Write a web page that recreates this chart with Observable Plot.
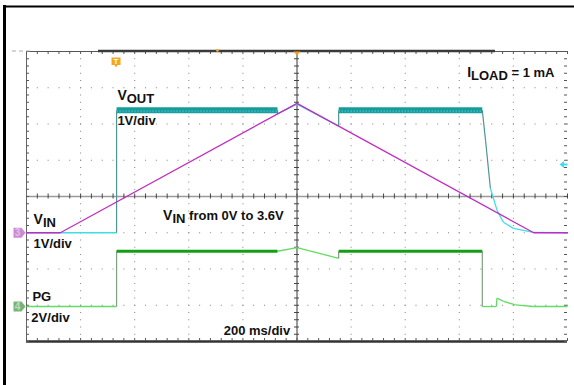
<!DOCTYPE html>
<html><head><meta charset="utf-8">
<script src="https://cdn.jsdelivr.net/npm/d3@7"></script>
<script src="https://cdn.jsdelivr.net/npm/@observablehq/plot@0.6"></script>
<style>body{margin:0;background:#fff} svg{display:block}</style>
</head><body><div id="chart"></div>
<script>
// ---------- data: time in ms (200 ms/div), values in volts ----------
const vinT  = [0, 125, 1000, 1875, 2000];
const vinV  = [0, 0, 3.57, 0, 0];

const voutT = [0, 333, 333, 928, 928, 1000, 1154, 1154, 1685, 1697, 1715, 1740, 1763, 1800, 1874, 2000];
const voutV = [0, 0, 3.38, 3.38, 3.28, 3.55, 2.94, 3.38, 3.38, 2.55, 1.22, 0.61, 0.29, 0.12, 0.01, 0];
const voutReg = 3.38;

const pgT = [0, 333, 333, 928, 1000, 1154, 1154, 1685, 1685, 1737, 1739, 1764, 1808, 1874, 2000];
const pgV = [0, 0, 3.05, 3.05, 3.25, 2.66, 3.05, 3.05, 0, 0, 0.46, 0.28, 0.09, 0, 0];
const pgHigh = 3.05;

// channel offsets (divisions from bottom) and volts per division
const chOffset = {vout: 3, vin: 3, pg: 0.965};
const chScale  = {vout: 1, vin: 1, pg: 2};

// labels (text, x in ms, y in div)
const labelText = ["V_{OUT}", "1V/div", "V_{IN}", "1V/div", "PG", "2V/div", "V_{IN} from 0V to 3.6V", "200 ms/div", "I_{LOAD} = 1 mA"];
const labelX    = [336, 336, 26, 26, 22, 18, 505, 729, 1629];
const labelY    = [6.65, 5.96, 3.25, 2.59, 1.11, 0.53, 3.36, 0.19, 7.29];

// ---------- geometry of the screen ----------
const X0 = 26, X1 = 567, Y0 = 341, Y1 = 51;
const msPerPx = 2000 / (X1 - X0), divPerPx = 8 / (Y0 - Y1);
const fx = px => (px - X0) * msPerPx, fy = py => (Y0 - py) * divPerPx;

function links(ts, vs, ch, level, steep) {
  const out = [];
  for (let i = 1; i < ts.length; i++) {
    const a = {t: ts[i-1], v: vs[i-1]}, b = {t: ts[i], v: vs[i]};
    let kind;
    if (a.v === level && b.v === level) kind = "band";
    else if (a.t === b.t || Math.abs((b.v - a.v) / (b.t - a.t)) > steep) kind = "edge";
    else kind = "trace";
    out.push({x1: a.t, x2: b.t, y1: chOffset[ch] + a.v / chScale[ch], y2: chOffset[ch] + b.v / chScale[ch], kind});
  }
  return out;
}
const voutLinks = links(voutT, voutV, "vout", voutReg, 0.05);
const pgLinks = links(pgT, pgV, "pg", pgHigh, 1e9);
const vinData = vinT.map((t, i) => ({t, y: chOffset.vin + vinV[i] / chScale.vin}));
const labels = labelText.map((text, i) => ({text, x: labelX[i], y: labelY[i]}));

const dotsV = [], dotsH = [];
for (let i = 1; i < 10; i++) if (i !== 5) for (let j = 0; j <= 40; j++) dotsV.push({t: i * 200, y: j / 5});
for (let k = 1; k < 8; k++) if (k !== 4) for (let j = 0; j <= 50; j++) dotsH.push({t: j * 40, y: k});
const minorX = d3.range(0, 51).map(j => j * 40);
const minorY = d3.range(0, 41).map(j => j / 5);

// custom symbols
const flag = {draw(c) { c.moveTo(-13, -5); c.lineTo(-5, -5); c.lineTo(-1, 0); c.lineTo(-5, 5); c.lineTo(-13, 5); c.closePath(); }};
const trig = {draw(c) { c.moveTo(-4.5, -5); c.lineTo(4.5, -5); c.lineTo(4.5, 2.5); c.lineTo(1.5, 2.5); c.lineTo(0, 5); c.lineTo(-1.5, 2.5); c.lineTo(-4.5, 2.5); c.closePath(); }};
const tri = {draw(c) { c.moveTo(-3.5, 0); c.lineTo(3.5, 0); c.lineTo(0, 4); c.closePath(); }};
const arrow = {draw(c) { c.moveTo(-8, 0); c.lineTo(-3.5, -3.5); c.lineTo(-3.5, -1); c.lineTo(0, -1); c.lineTo(0, 1); c.lineTo(-3.5, 1); c.lineTo(-3.5, 3.5); c.closePath(); }};

const font = "Liberation Sans, Arial, sans-serif";
const grayTick = "#555";

const plot = Plot.plot({
  width: 574, height: 385,
  marginTop: 0, marginRight: 0, marginBottom: 0, marginLeft: 0,
  x: {domain: [0, 2000], range: [X0, X1], axis: null},
  y: {domain: [0, 8], range: [Y0, Y1], axis: null},
  style: {fontFamily: font, background: "white"},
  marks: [
    // outer frame
    Plot.ruleX([fx(4)], {y1: fy(5), y2: fy(400), stroke: "black", strokeWidth: 3}),
    Plot.ruleY([fy(6)], {x1: fx(3), x2: fx(590), stroke: "black", strokeWidth: 2}),
    // graticule dots
    Plot.dot(dotsV, {x: "t", y: "y", r: 0.6, symbol: "square", fill: "#888", stroke: null}),
    Plot.dot(dotsH, {x: "t", y: "y", r: 0.6, symbol: "square", fill: "#888", stroke: null}),
    // centre cross
    Plot.ruleX([1000], {y1: 0, y2: 8, stroke: "#9a9a9a", strokeWidth: 2}),
    Plot.ruleY(minorY, {x1: 1000 - 2.5 * msPerPx, x2: 1000 + 2.5 * msPerPx, stroke: "#444"}),
    Plot.ruleY([4], {x1: 0, x2: 2000, stroke: "#9a9a9a", strokeWidth: 1.5}),
    Plot.ruleX(minorX, {y1: 4 - 2.5 * divPerPx, y2: 4 + 2.5 * divPerPx, stroke: "#444"}),
    // edges and edge ticks
    Plot.ruleX([0], {y1: 0, y2: 8, stroke: "#666"}),
    Plot.ruleY([8], {x1: 0, x2: 2000, stroke: "#555"}),
    Plot.ruleY([0], {x1: 0, x2: 2000, stroke: "#333", strokeWidth: 2.5}),
    Plot.ruleX(minorX, {y1: 8, y2: 8 - 3 * divPerPx, stroke: grayTick}),
    Plot.ruleX(minorX, {y1: 0, y2: 3 * divPerPx, stroke: grayTick}),
    Plot.ruleY(minorY, {x1: 0, x2: 3 * msPerPx, stroke: grayTick}),
    Plot.ruleY(minorY, {x1: 2000 - 3 * msPerPx, x2: 2000, stroke: grayTick}),
    // record bar and dashed stub
    Plot.ruleY([8], {x1: fx(98), x2: fx(495), stroke: "#3a3a3a", strokeWidth: 2.5, dy: -0.5}),
    Plot.ruleY([8], {x1: fx(12), x2: fx(33), stroke: "#aaa", strokeDasharray: "4 3", dy: -0.5}),
    // VOUT (ch1)
    Plot.link(voutLinks.filter(d => d.kind === "trace"), {x1: "x1", y1: "y1", x2: "x2", y2: "y2", stroke: "#3fdde6", strokeWidth: 1.3}),
    Plot.link(voutLinks.filter(d => d.kind === "edge"), {x1: "x1", y1: "y1", x2: "x2", y2: "y2", stroke: "#4f9494", strokeWidth: 1.2}),
    Plot.link(voutLinks.filter(d => d.kind === "band"), {x1: "x1", y1: "y1", x2: "x2", y2: "y2", stroke: "#169c9c", strokeWidth: 6}),
    Plot.link(voutLinks.filter(d => d.kind === "band"), {x1: "x1", y1: "y1", x2: "x2", y2: "y2", stroke: "#4cc4c4", strokeWidth: 2, strokeDasharray: "1 2", dy: 1}),
    // PG (ch4)
    Plot.link(pgLinks.filter(d => d.kind === "trace"), {x1: "x1", y1: "y1", x2: "x2", y2: "y2", stroke: "#62dc62", strokeWidth: 1.3}),
    Plot.link(pgLinks.filter(d => d.kind === "edge"), {x1: "x1", y1: "y1", x2: "x2", y2: "y2", stroke: "#7fa07f", strokeWidth: 1.2}),
    Plot.link(pgLinks.filter(d => d.kind === "band"), {x1: "x1", y1: "y1", x2: "x2", y2: "y2", stroke: "#12a012", strokeWidth: 3}),
    // VIN (ch3)
    Plot.line(vinData, {x: "t", y: "y", stroke: "#c02ec0", strokeWidth: 1.3}),
    // markers
    Plot.dot([{x: 0, y: chOffset.vin}], {x: "x", y: "y", symbol: flag, fill: "#cc8ad4", stroke: null, dx: 0}),
    Plot.text([{x: 0, y: chOffset.vin, t: "3"}], {x: "x", y: "y", text: "t", dx: -9, fill: "#e2bfe6", fontSize: 10, fontWeight: "bold"}),
    Plot.dot([{x: 0, y: chOffset.pg}], {x: "x", y: "y", symbol: flag, fill: "#78b478", stroke: null}),
    Plot.text([{x: 0, y: chOffset.pg, t: "4"}], {x: "x", y: "y", text: "t", dx: -9, fill: "#bcdcbc", fontSize: 10, fontWeight: "bold"}),
    Plot.dot([{x: 331, y: 7.7}], {x: "x", y: "y", symbol: trig, fill: "#f5a623", stroke: null}),
    Plot.text([{x: 331, y: 7.7, t: "T"}], {x: "x", y: "y", text: "t", dy: -1, fill: "white", fontSize: 8, fontWeight: "bold"}),
    Plot.dot([{x: 1000, y: 8}], {x: "x", y: "y", symbol: tri, fill: "#f5a020", stroke: null}),
    Plot.dot([{x: 706, y: 8}], {x: "x", y: "y", r: 1.4, fill: "#f5a020", stroke: null, dy: -1}),
    Plot.dot([{x: 2000, y: chOffset.vout + 1.88}], {x: "x", y: "y", symbol: arrow, fill: "#35e0f0", stroke: null}),
    // labels
    Plot.text(labels, {x: "x", y: "y", text: "text", textAnchor: "start", lineAnchor: "bottom", fontSize: 13, fontWeight: "bold", fill: "#111", fontFamily: font})
  ]
});

// subscript handling: "A_{B}rest"
const ns = "http://www.w3.org/2000/svg";
plot.querySelectorAll("text").forEach(el => {
  const s = el.textContent;
  const m = s.match(/^(.*?)_\{(.*?)\}(.*)$/);
  if (!m) return;
  while (el.firstChild) el.removeChild(el.firstChild);
  const a = document.createElementNS(ns, "tspan"); a.textContent = m[1]; a.setAttribute("font-size", 14); el.appendChild(a);
  const b = document.createElementNS(ns, "tspan"); b.textContent = m[2]; b.setAttribute("font-size", 13); b.setAttribute("dy", 3); el.appendChild(b);
  if (m[3]) { const c = document.createElementNS(ns, "tspan"); c.textContent = m[3]; c.setAttribute("dy", -3); el.appendChild(c); }
});
document.getElementById("chart").appendChild(plot);
</script>
</body></html>
